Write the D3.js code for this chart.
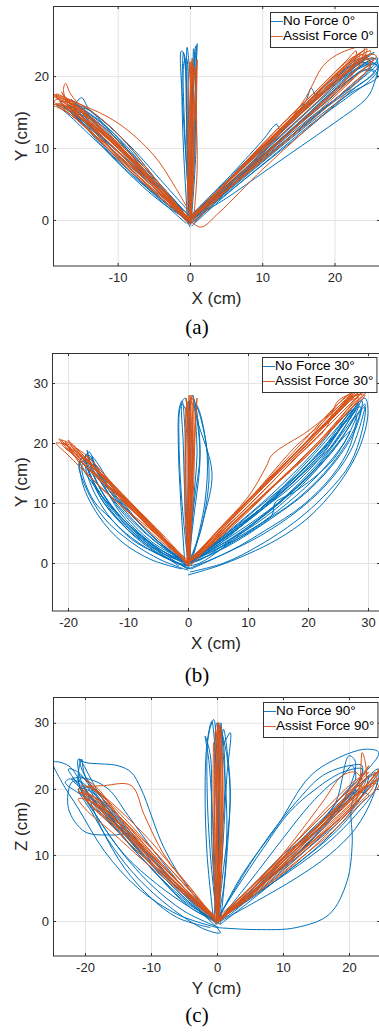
<!DOCTYPE html>
<html>
<head>
<meta charset="utf-8">
<script src="https://cdn.jsdelivr.net/npm/d3@7"></script>
<style>
  body { margin: 0; background: #fff; }
  svg { display: block; font-family: "Liberation Sans", Arial, sans-serif; }
</style>
</head>
<body>
<svg id="fig" width="379" height="1034"></svg>
<script>
// tick labels
const aXTicks = [-10, 0, 10, 20];
const aYTicks = [0, 10, 20];
const bXTicks = [-20, -10, 0, 10, 20, 30];
const bYTicks = [0, 10, 20, 30];
const cXTicks = [-20, -10, 0, 10, 20];
const cYTicks = [0, 10, 20, 30];

const aLegend = ['No Force 0°', 'Assist Force 0°'];
const bLegend = ['No Force 30°', 'Assist Force 30°'];
const cLegend = ['No Force 90°', 'Assist Force 90°'];

// trajectories, flat x,y lists (cm)
const aNoForce = [
  [0,0, -5,5, -10,10, -15,15, -17,16, -16,15.5, -11,10, -5,4.5, -1,0.5],
  [-0.5,0, -5,4, -10,9, -14,13, -16.5,15.5, -15,15.8, -9,11, -4,5.5, 0,1],
  [0,-0.5, -5,6, -10,12, -14,15.5, -15,17, -16,15.5, -12,13, -6,7, -1,1.5],
  [0,0, -6,4.5, -11,9, -15,13.5, -18,16.5, -16,16, -10,11.5, -4,4.5, 0,0],
  [0.5,-0.5, -4,2.5, -9,7, -13,11.5, -16,15, -14,14.5, -8,8.5, -3,3, 0,0],
  [0,-1, -1.5,2, -6,6, -11,10.5, -15.5,14.5, -17.5,16, -16,14.5, -10,9.5, -5,5, -1,1],
  [0.3,-0.8, -4.5,4, -9.5,9, -14.5,13.5, -17.5,15.8, -15.5,15, -10.5,10.5, -5.5,5.5, -1,0.8],
  [-0.8,0.5, -5.5,5.5, -10.5,11, -14,14.5, -16.5,16.8, -15.5,16, -11,12.5, -6,6.5, -1.2,1.5],
  [0,-0.3, -3,2, -8,6.5, -13,11, -17,14.8, -18.5,16, -16.5,15, -12,10.5, -6,4.5, -0.5,-0.5],
  [0.5,0.2, -5,4.8, -9,8.5, -13,12.5, -16,15, -14.5,15.5, -9.5,10.5, -4.5,5, 0,0.5],
  [0,0, -0.5,8, -1,16, -1.2,23.5, -0.8,23, -0.5,15, -0.2,6, 0,0],
  [0,0, 0.5,10, 0.8,20, 1,24.5, 0.7,22, 0.3,12, 0,0],
  [0,0, -0.3,10, -0.5,20, -0.4,24, 0,20, 0.2,10, 0,0],
  [0,0, 0.3,10, 0.4,20, 0.5,23.8, 0.8,18, 0.6,8, 0,0],
  [0,0, -0.7,12, -0.8,22, -0.5,22.5, -0.2,14, 0,0],
  [-0.3,-0.5, -0.9,10, -1.1,18, -0.9,23.3, -0.5,19, -0.4,9, 0.2,0],
  [0.2,0, 0.8,9, 0.9,18, 0.8,24.2, 0.4,20, 0.1,9, -0.3,-0.4],
  [0,0, 5,4, 10,8.5, 15,12.5, 20,16.5, 25,20, 26,21.5, 24,21.5, 19,17.5, 13,12, 7,6.5, 2,2, 0,0],
  [0,0, 5,3, 10,6.5, 15,10, 20,13.5, 24.5,17, 25.5,19, 26,21.8, 24,21, 18,16, 10,9, 3,2.5, 0,0],
  [0,0, 6,5, 12,10, 18,15, 22,18.5, 25,21.5, 23,21.8, 17,17, 11,11, 5,5, 0,0],
  [0,0, 5,4.5, 11,9.5, 17,14.5, 23,19, 26,22, 25,22.5, 20,19, 14,13.5, 7,7, 0,0],
  [0,0, 6,5.5, 11,10.5, 16,16.5, 16.8,18.3, 17.5,17.3, 21,20, 24.5,22.8, 25.5,23.3, 23,21.5, 16,15.5, 9,8.5, 2,1.5, 0,0],
  [0,0, 4,3, 10,8, 16,13, 22,17.5, 26,20, 25,21, 20,18, 14,12.5, 7,6, 0,0],
  [0,0, 5,5.5, 10,11, 12,13.3, 12.5,12.5, 16,15.5, 20,19.5, 23,22, 24.5,22.8, 22,20.5, 15,14, 8,7.5, 0,0],
  [-0.3,-0.5, 4,2.8, 9,6.8, 14,10.8, 19,15, 23,18.5, 25.5,20.5, 24,20.8, 19,16.5, 13,11.5, 7,6.5, 1,0.5],
  [0.5,-0.3, 6,4.8, 11,9, 16,13.5, 21,17.5, 24.5,20.5, 26,22.5, 24.5,22, 19,18, 13,12.5, 6,6, 0,0.3],
  [0,0.5, 4,4, 9,8, 14,12.5, 19,17, 22.5,20.5, 25,22, 23.5,22.5, 18.5,18, 12.5,12.5, 6,6.5, 0.5,1],
  [0.3,-0.8, 5,3.5, 11,8.5, 17,13.5, 22,17.2, 25,19.5, 26,21, 25,22, 21,19, 15,13.5, 8,7, 2,1, 0,-0.5]
];
const aAssist = [
  [0,0, -5,5, -10,10.5, -15,15, -18.5,17, -17,16, -11,11, -5,5, 0,0],
  [0,0, -5,4.5, -11,10, -16,14.5, -17.5,18, -17.2,19, -16.5,17.5, -12,12.5, -6,6, 0,0],
  [0,0, -6,5.5, -12,11, -17,16, -18.8,17.2, -15,16, -10,13.5, -5,9, -2,4.5, 0,1],
  [0,-0.5, -4,3, -9,7.5, -14,12.5, -18,16, -16,15, -10,9, -4,3, 0,0],
  [0,0, -5,6, -10,12, -15,16, -19,17.5, -17,16.5, -12,12.5, -6,7, -1,1],
  [0,0, -6,5, -12,10.5, -17,15, -19,16, -16,15.5, -11,11.5, -5,5.5, 0,0],
  [0,0, -4,4, -9,8.5, -13,12.5, -16,15.5, -17.8,17.8, -16.5,16, -12,11.5, -7,6.5, -2,1.5, 0,0],
  [0.2,-0.5, -4.5,4.5, -9.5,9.5, -14.5,14, -18,16.5, -16,16, -10.5,10.8, -5,5.5, -0.5,0.5],
  [-0.5,0.3, -5.5,5.5, -10.5,10.5, -15.5,14.5, -18.5,16.2, -17,15.8, -12,12, -6.5,6.5, -1,1],
  [0.3,0, -5,4.2, -10,8.8, -15,13.5, -18.8,16.5, -17.5,16.8, -13,13, -7,7, -1.5,1.5, 0.2,-0.5],
  [0,-0.8, -4,3.8, -8.5,8.2, -13.5,12.8, -17,15.5, -18.5,17.5, -16.5,16.5, -11,11.2, -5.5,5.8, -0.5,0.5],
  [-0.3,-0.2, -6,6.2, -11,11.5, -15.5,15.5, -17.5,17.2, -16,16.2, -11,12, -5,5.5, 0,0],
  [0,0, 0,10, 0.2,20, 0.3,22.5, 0.5,18, 0.4,8, 0,0],
  [0,0, -0.3,10, -0.2,20, 0,22, 0.2,15, 0.1,5, 0,0],
  [0,0, 0.5,10, 0.8,18, 1,22.3, 0.9,15, 1,7, 0.5,0],
  [0,0, -0.2,8, 0.2,18, 0.5,21.5, 0.3,12, 0,0],
  [0,0, 0.2,12, 0.6,21, 0.4,20, 0,10, 0,0],
  [0.1,-0.5, 0.3,9, 0.1,18, 0.2,22, 0.6,16, 0.5,6, 0,-0.3],
  [-0.4,0, -0.2,11, 0.4,21.5, 0.7,21, 0.5,10, 0.2,0.5],
  [0,0, 5,4.5, 10,9, 15,13.5, 20,18, 24,22, 25,23.5, 23,22.5, 18,17.5, 12,12, 6,6, 0,0],
  [0,0, 6,5.5, 12,11.5, 16,17, 18.5,21.5, 21,23.3, 24,24, 24,23, 20,19, 14,13.5, 7,7, 0,0],
  [0,0, 5,4, 11,9, 17,14, 22,18.5, 25,21.5, 24,22.5, 19,19, 13,13, 6,6, 0,0],
  [0,0, 1.5,-1, 4,1, 10,7, 16,12.5, 22,18, 25,22, 23.5,23, 17,17.5, 10,10.5, 4,4, 0,0],
  [0,0, 6,5, 12,10.5, 18,16, 22,20, 23,23.5, 21.5,22, 15,15.5, 9,9.5, 3,3, 0,0],
  [0,0, 5,5, 10,10, 15,14.5, 20,19, 23,21.5, 24.5,23, 22,21, 16,15.5, 10,10, 4,4, 0,0],
  [-0.3,0.3, 5,4.2, 10,8.8, 15,13.2, 20,17.5, 24,21, 25.5,22.5, 23.5,22, 18.5,18, 12.5,12.5, 6.5,6.5, 0.5,0.5],
  [0.5,-0.5, 5.5,4.5, 11,9.5, 16.5,14.5, 21.5,19, 24,22.5, 24.5,23.8, 22.5,22.3, 17,17, 11,11.2, 5,5.2, 0,0],
  [0,0.5, 4.5,4.8, 9.5,9.8, 14.5,14.5, 19.5,19, 22.5,22.5, 24,23.5, 22,22, 16,16.2, 10,10.2, 4.5,4.5, -0.3,0],
  [0.3,-0.3, 6,5, 12,10, 18,15.3, 23,20, 25.8,22.8, 24.8,23, 20,19.5, 14,14, 8,8.2, 2,2, 0,-0.5],
  [-0.5,0, 4,3.8, 8,7.8, 13,12.2, 18,16.8, 22,20.8, 23.5,22.8, 21,21, 15,15, 9,9, 3,3, 0,0]
];

const bNoForce = [
  [0,-1, -1.8,0, -5,1.5, -9.2,3.8, -13,7.5, -15.8,10.5, -17.7,16, -16.5,18.5, -15,15, -11,8, -5,2.5, 0,0],
  [0,0, -5,2, -10,5.5, -14,10, -16.5,15, -17,18, -16,17, -13,12, -8,6.5, -3,2, 0,0],
  [0,-0.5, -4,1, -9,4.5, -13,9, -16,14, -17.5,17.5, -18,17, -15,12, -10,6.5, -4,1.5, 0,-1],
  [0,0, -6,3, -11,7.5, -15,13, -16.5,17, -16.8,18.8, -16,16, -12,10, -6,4, 0,0],
  [-1,-1, -6,0.5, -11,3.5, -15,8, -17.5,13, -18,17, -17,16, -14,10, -9,5, -3,1, 0,0],
  [0,0, -4,2.5, -8,6, -12,10.5, -15,15, -16,17.5, -15.5,16, -11,10, -6,4.5, 0,0],
  [0.5,-1, -3,0.5, -8,3.2, -12.5,7, -15.5,11.5, -17,15.5, -17.2,17.5, -16,15, -12.5,9, -7,3.5, -1.5,-0.5],
  [-0.5,-0.2, -5,2.5, -9.5,6, -13.5,10.5, -16,15.5, -16.5,18, -15.5,16.5, -12,11, -7,5.5, -2,1, 0.3,-0.8],
  [0,-1.2, -4.5,0.5, -9.5,3.5, -14,7.5, -17,12.5, -18.2,16.5, -17.5,17.5, -15.5,13, -11,7, -5.5,2, -0.5,-0.5],
  [0.3,0, -6,3.5, -11,8.5, -14.5,13.5, -16,17.8, -15,16.5, -11.5,11, -6.5,5, -1.5,0.8],
  [0,0, -1,10, -1.5,20, -1.3,26, -0.5,27.5, 0,20, 0,8, 0,0],
  [0,0, 0,10, 0.3,20, 0.5,27.5, 1.5,26, 3,20, 3.5,14, 2,5, 0,0],
  [0,0, 1,10, 2,18, 1.5,25, 0.8,28, 1.5,24, 4,15, 2.5,7, 0.5,0],
  [0,0, -0.5,10, -0.8,20, -1,26.5, -0.2,25, 0.5,15, 0.2,5, 0,0],
  [0,0, 0.5,8, 0.8,18, 0.3,27, 1,26, 2,18, 1,8, 0,0],
  [-0.5,-0.5, -1.2,10, -1.6,19, -1.5,25.5, -1,27, -0.5,22, -0.3,10, 0.3,0],
  [0.3,0, 0.8,9, 1.5,18, 1.3,26.5, 2,25, 3.2,18, 2.8,10, 1,2, 0,-0.5],
  [0,-2, 5,-0.5, 10,1.5, 15,4, 20,7.5, 25,13, 28.5,19, 30,25, 29.5,27.5, 27,24, 22,17, 15,10, 8,4.5, 2,0.5, 0,0],
  [0,0, 8,5, 15,10, 22,16.5, 27,23, 28.5,26.5, 27,25, 20,17, 12,9, 5,3, 0,0],
  [0,0, 6,3, 12,6.5, 18,10.5, 24,16.5, 28,23, 29,27, 27.5,26, 23,19, 16,12, 8,5.5, 0,0],
  [0,-1, 7,2, 13,5.5, 19,9.5, 24,14.5, 27,19.5, 28,24.5, 26,22, 21,15.5, 14,9, 7,4, 0,0],
  [0,0, 6,4.5, 12,9.5, 18,14.5, 23,19.5, 26.5,24, 28,25.5, 25,22, 19,15.5, 12,9, 5,3.5, 0,0],
  [0,0, 10,5, 14,8, 14.5,10, 18,12, 24,17, 27,22, 26,21, 20,14, 12,7, 0,0],
  [0.5,-1, 6,1.5, 12,4.5, 18,8.5, 23,13, 27,18.5, 29,24, 29.5,26.5, 28,24.5, 24,18.5, 17,11.5, 9,5, 2,0, 0,-0.5],
  [-0.5,-0.5, 7,3, 14,7.5, 20,12, 25,17.5, 28,22.5, 28.8,26, 27,25, 22,18.5, 15,11.5, 7,5, 0.5,0.3],
  [0,0.3, 5,3.5, 11,8, 17,12.5, 22,17.5, 25.5,22.5, 27.5,25.5, 26,24.5, 21,18.5, 14,11.5, 7,5.5, 0,0],
  [0.3,-1.5, 6,0, 12,3, 18,7, 23,11.5, 27,16.5, 29,22, 29.5,26, 28.5,25, 26,20, 20,13, 12,6.5, 4,1.5, 0,0],
  [0,0, 8,6, 14,10.5, 19,14.8, 24,19.5, 27.5,25, 28.5,27, 26.5,24, 21,17, 13,9.5, 6,4, 0,0]
];
const bAssist = [
  [0,0, -5,5, -10,10, -15,14.5, -19,18.5, -21.5,20.7, -21,20, -17,16.5, -12,11.5, -6,5.5, 0,0],
  [0,0, -5,4.5, -11,9.5, -16,14, -20,18, -22,20, -20,19.5, -15,15, -9,9, -3,3, 0,0],
  [0,0, -6,6, -11,11.5, -15,15.5, -18,18.5, -20,20.5, -19,19, -14,14.5, -8,8.5, -2,2, 0,0],
  [0,0, -4,4.5, -9,9.5, -13,13.5, -17,17, -19,19.5, -17.5,18, -13,13, -8,7.5, -3,2.5, 0,0],
  [0,0, -5,4, -10,8.5, -15,13, -18,16.5, -20.5,20.3, -19,18, -14,13.5, -9,9, -4,4, 0,0],
  [0,0, -7,7, -12,12, -16,16.5, -17,18, -16,17, -11,11.5, -5,5, 0,0],
  [0.3,-0.5, -4.5,4.5, -9.5,9.2, -14.5,13.8, -18.5,17.5, -21,19.8, -20,19.8, -16,16, -10.5,10.5, -5,5, -0.3,0.3],
  [-0.3,0.3, -5.5,5.2, -10.5,10.3, -15.5,15, -19.5,19, -21.2,20.5, -19.5,19.8, -14.5,14.8, -9,9.2, -3.5,3.5, 0,-0.3],
  [0,-0.5, -4,3.8, -8.5,8, -13.5,12.5, -17.5,16.5, -19.8,18.8, -18.5,18.5, -13.5,13.8, -8.5,8.5, -3,3, 0,0],
  [0.5,0, -6,5.8, -11.5,11, -16,15.2, -19,18, -20.5,19.2, -18,17.8, -12.5,12.5, -7,7, -1.5,1.5],
  [-0.2,-0.3, -5,5.3, -10,10.3, -14,14.5, -17.5,18, -18.5,19, -17,18, -12,12.5, -6.5,6.8, -1,1],
  [0,0, 0,10, 0.3,20, 0.5,28, 0.8,22, 0.5,10, 0,0],
  [0,0, -0.3,10, -0.3,20, 0,27, 0.5,20, 0.3,8, 0,0],
  [0,0, 0.5,10, 1,20, 1.5,27.5, 1.2,22, 0.8,10, 0,0],
  [0,0, -0.5,8, -0.5,18, -0.3,26, 0.2,18, 0.4,6, 0,0],
  [0,0, 0.2,12, 0.6,23, 0.2,28, 0,20, 0,8, 0,0],
  [0.2,-0.5, 0.4,9, 0.7,19, 0.9,27.8, 1,22, 0.7,11, 0.3,0],
  [-0.2,0.2, 0.1,11, 0.2,21, -0.3,27.5, 0,22, 0.2,10, 0,-0.5],
  [0,0, 6,6, 12,12, 18,18, 24,24, 28,28, 29.5,29.5, 27,27, 21,21, 14,14, 7,7, 0,0],
  [0,0, 5,5.5, 10,11, 13,16, 14,18, 20,22, 25,26, 28,28.5, 26,26.5, 19,19.5, 12,12, 5,5, 0,0],
  [0,0, 7,6, 14,12.5, 20,18, 25,23.5, 28.5,27.5, 27,27, 22,22, 15,15, 8,8, 0,0],
  [0,0, 5,4, 11,9.5, 17,15.5, 22,20.5, 26,25, 29,28.5, 28,27.5, 23,22.5, 16,15.5, 9,8.5, 3,3, 0,0],
  [0,0, 6,5.5, 12,11.5, 18,17.5, 23,22.5, 25,27, 27,28, 25.5,26, 20,20, 13,13, 6,6, 0,0],
  [0,0, 4,3, 9,8, 15,13.5, 21,19, 26,24.5, 30,29, 28.5,28.5, 22,22, 15,14.5, 8,7.5, 0,0],
  [0.3,-0.5, 5.5,5, 11,10.5, 16.5,16, 22,21.5, 26,25.5, 28.5,28, 27,27.3, 21.5,21.8, 15,15.3, 8.5,8.5, 2,2, 0,0],
  [-0.3,0, 6,5.2, 12,10.8, 18,16.5, 23.5,22, 27,26, 29,28, 27.5,27.8, 22,22.5, 15.5,16, 8,8.5, 1,1],
  [0,0.5, 5,5, 10,10.3, 15.5,15.8, 20.5,20.8, 24.5,25, 27.5,28.5, 26,27.5, 19.5,20, 13,13.5, 6.5,7, 0,0],
  [0.5,-0.3, 7,6.2, 13,11.8, 19,17.3, 24,22.2, 27.5,26, 29.5,28, 28,28, 23.5,23.5, 16.5,16.5, 9.5,9.5, 2.5,2.5, 0,0],
  [0,0, 4.5,4.8, 9.5,9.8, 14,15, 18,19.5, 22,23, 26,27, 27.5,28.5, 25,26.5, 18.5,19.5, 11.5,12, 4.5,4.5, 0,0]
];

const cNoForce = [
  [0,0, -5,3, -10,8, -15,13.5, -19,18, -21,21, -20.5,24.5, -20,22, -16,17, -11,11, -5,4.5, 0,0],
  [0,0, -4,4.5, -8,11, -11.5,20, -13,22.5, -15,23.5, -20,24, -21,24.5, -20.5,21, -17,16, -10,8, -4,2, 0,0],
  [0,-1, -6,1, -12,5, -17,10.5, -21,17, -23.5,21, -24.8,24, -22.5,23.5, -20,20, -16,15, -10,8, -4,2.5, 0,0],
  [0,0, -5,4, -10,9, -13,13, -16,13, -20,13.5, -22.5,17, -22,21, -20.5,21, -18,18, -12,11, -6,5, 0,0],
  [-1,-1, -6,0.5, -10,3.5, -14,8, -17.5,14, -19.5,19, -20,20.5, -17,17.5, -12,11, -6,5, 0,-1],
  [0,0, -6,5, -12,11, -17,16.5, -22,21.5, -23,21, -19,18, -13,12.5, -7,6.5, -1,0.5],
  [0,-1, 0.5,-1.8, -2,-1.2, -7,2, -12,6.5, -16,11.5, -19,16.5, -21,20, -19,19.5, -14,13, -8,6.5, -2,1, 0,0],
  [0.5,-0.5, -4,2, -9,5.5, -14,10, -18,15.5, -21,20.5, -22.5,23, -21,22.5, -18,18.5, -13,12, -7,5.5, -1,0],
  [-0.5,0.3, -5,5, -9.5,10.5, -13.5,16, -16.5,20, -19.5,21.5, -22,21.5, -20.5,20, -16.5,16, -11,10.5, -5.5,5, 0,0],
  [0.3,-1, -5,1.5, -10,5.5, -14.5,10.5, -18,15.5, -20.5,19.5, -21,22, -19,20.5, -15,15.5, -10,9.5, -4,3, 0,-0.5],
  [0,0, -6,5.5, -11,10.5, -15,15, -18,19.5, -20.8,24.5, -20.5,23, -18.5,19.5, -13.5,13.5, -8,7.5, -2,1.5],
  [0,0, -1,10, -1.5,20, -1.3,28, -0.5,30.5, 0,25, 0.3,12, 0,0],
  [0,0, 0.5,10, 1.2,20, 0.8,28, 0,30, -0.3,20, -0.5,8, 0,0],
  [0,0, 1,8, 2,18, 1.5,25, 0.5,29.5, 1,27, 2,28.5, 1.5,22, 0.8,10, 0,0],
  [0,0, -0.8,12, -1,25, -1.8,28, -1.2,24, -0.5,12, 0,0],
  [0,0, 0.3,15, 0.6,30, 0.9,26, 1.5,15, 1,5, 0,0],
  [-0.5,0, -1.5,10, -1.8,20, -1.5,27, -0.8,30.2, -0.3,26, 0.2,12, 0.5,0],
  [0.5,-0.5, 1.5,10, 2,20, 1.5,26, 1,29, 0.5,24, 0.2,10, -0.5,0],
  [0,0, 5,4, 10,8, 15,12, 20,16.5, 23,20.5, 24.5,22.5, 22,21, 16,14.5, 10,9, 4,3, 0,0],
  [0,0, 4,7, 8,13, 12,18, 16,22, 20,23.5, 22,23.5, 21,20, 17,15, 11,9, 5,4, 0,0],
  [0,0, 4,7.3, 9,14.2, 14,21.8, 18,24.5, 22.5,26, 24.5,25.5, 22,22, 16,16, 9,9, 3,3, 0,0],
  [0,-1, 6,-1.3, 12,-1, 17,1, 19.7,6, 20.5,12, 20.3,17, 21,20, 19,18, 14,12, 8,6.5, 2,1, 0,0],
  [0,0, 6,4, 12,8.5, 18,13.5, 22,18, 23,19, 21,19.5, 15,14.5, 9,8.5, 3,2.5, 0,0],
  [0,0, 5,3.5, 11,7.5, 17,12, 21,16, 24,20, 24.5,23, 23,22, 18,17, 12,11.5, 6,5.5, 0,0],
  [0,0, 5,5, 10,10, 15,14, 18,18, 20,25, 21,24, 19,18, 13,11, 6,5, 0,0],
  [0.5,-0.5, 5,3, 10,7, 15,11, 19,15, 22,19, 23,22, 21.5,20, 17,15.5, 11,10, 5,4.5, 0,0],
  [0,0.3, 3,5, 7,11, 11,16.5, 15,20, 19,22.5, 22,23, 21.5,21, 18,16.5, 12,10.5, 6,5, 0.5,0.5],
  [-0.3,-0.5, 6,3, 12,6.5, 17,10, 21,14, 23.5,18.5, 24.3,21.5, 22,19, 17,14, 11,8.5, 5,3.5, 0,0],
  [0.2,0, 5,6, 10,12.5, 14,17.5, 17,20.5, 19,22, 20.5,23.5, 21,21.5, 19,19, 14,13, 8,7, 2,1.5]
];
const cAssist = [
  [0,0, -5,4.5, -10,9.5, -15,15, -19,19, -21,20, -20,18.5, -15,14, -9,8.5, -4,3.5, 0,0],
  [0,0, -6,6, -11,11, -15,16, -18,20, -20,21.5, -19,20.5, -15,17, -10,12, -5,6, 0,0],
  [0,0, -5,4, -11,9, -16,13.5, -20,17, -21,18.5, -19,18, -14,13, -8,7, 0,0],
  [0,0, -4,5, -8,10, -11,16, -13,20.5, -17,20.5, -20,20, -17,17, -11,11, -5,5, 0,0],
  [0,0, -6,5.5, -12,10.5, -17,15.5, -20,18.5, -18,17.5, -13,13, -7,7, 0,0],
  [0,0, -5,5, -10,10.5, -15,16, -18,18.5, -21,19.5, -19,19, -14,14.5, -8,8, -2,2, 0,0],
  [0.3,-0.3, -4.5,4, -9.5,8.8, -14.5,13.8, -18.5,17.5, -20.5,19.5, -19.5,18.8, -15,14.5, -9.5,9, -4,3.8, 0,0.5],
  [-0.3,0.2, -5.5,5.5, -10.5,11, -14.5,15.5, -17.5,19, -19.5,20.5, -18.5,20, -14,15.5, -9,10, -4,4.5, 0,0],
  [0.5,0, -4.5,4.5, -9,9, -13.5,13.5, -17,17, -19,18, -17.5,17.2, -13,12.8, -7.5,7.5, -2.5,2.5, 0,-0.3],
  [0,-0.5, -6,5, -11.5,10, -16,14.5, -19.5,18, -20.5,20.5, -19,20, -14.5,15.5, -9.5,10.5, -4.5,5, 0.2,0.2],
  [0,0, 0,10, 0.2,20, 0.2,30, 0.5,25, 0.6,12, 0,0],
  [0,0, -0.3,10, -0.4,20, -0.2,29, 0.3,22, 0.4,10, 0,0],
  [0,0, 0.5,12, 0.8,22, 0.5,28.5, 0,20, 0,8, 0,0],
  [0,0, -0.5,8, -0.6,18, -0.5,27, -0.2,20, 0.2,5, 0,0],
  [0,0, 0.3,10, 0.5,20, 0.3,30, 0.2,26, 0.5,12, 0,0],
  [0.2,0, 0.7,10, 0.8,20, 0.6,29.5, 0.9,22, 0.8,10, 0.2,-0.5],
  [-0.3,0, -0.2,12, 0,24, 0.1,30, -0.1,20, 0,8, 0.3,0],
  [0,0, 5,4, 10,8.5, 15,13, 20,17.5, 23,21, 24,22.5, 22,21, 16,15, 10,9.5, 4,3.5, 0,0],
  [0,0, 6,4.5, 12,9.5, 17,14, 21,18, 22,25.5, 22.5,21, 18,16.5, 12,10.5, 6,5, 0,0],
  [0,0, 5,3.5, 11,8, 16,12.5, 20,16.5, 23.5,20, 24.5,23, 23,20, 18,15, 11,9, 4,3, 0,0],
  [0,0, 4,4, 9,9, 13,14, 16,18, 19,22, 21,22.5, 22,21, 18,17, 12,11.5, 6,6, 0,0],
  [0,0, 6,5, 12,10, 18,15, 22,19, 24.5,21.5, 23,20.5, 17,15.5, 11,10, 5,4.5, 0,0],
  [0,0, 5,4.5, 10,9, 15,13.5, 19,17, 22,20.5, 20.5,20, 14,14, 8,8, 2,2, 0,0],
  [0.3,0, 5.5,4.3, 11,9, 16,13.5, 20.5,17.8, 23.5,21.5, 24.5,22.8, 22.5,20.5, 17,15.8, 11,10.3, 5,4.5, 0,0],
  [0,0.5, 4.5,4.5, 9.5,9.2, 14.5,13.8, 19,18.3, 22,21.8, 23,23.5, 21.5,21.5, 16,16, 10,10, 4,4, 0,0],
  [-0.3,-0.3, 6,4.2, 12,9, 17.5,13.5, 21.5,17.5, 24.5,20.5, 23.5,20.8, 18,16, 12,10.8, 6,5, 0.5,0],
  [0.5,0, 5,4.8, 10.5,9.8, 15,14, 19,18, 21.5,21, 23,22.5, 21,21.3, 16.5,17, 11,11, 5,5, 0,0]
];

const blue = '#0072BD';
const orange = '#D95319';

const panels = [
  { box: { l: 53, r: 380, t: 6, b: 266 }, xDom: [-18.95, 26.3], yDom: [-6.4, 29.75],
    xTicks: aXTicks, yTicks: aYTicks, xLabel: 'X (cm)', yLabel: 'Y (cm)', names: aLegend,
    noForce: aNoForce, assist: aAssist, legend: { x: 270, y: 12 }, caption: '(a)', capY: 329 },
  { box: { l: 52, r: 380, t: 353, b: 611 }, xDom: [-22.67, 32], yDom: [-8, 35],
    xTicks: bXTicks, yTicks: bYTicks, xLabel: 'X (cm)', yLabel: 'Y (cm)', names: bLegend,
    noForce: bNoForce, assist: bAssist, legend: { x: 262, y: 357 }, caption: '(b)', capY: 677 },
  { box: { l: 53, r: 380, t: 697, b: 956 }, xDom: [-24.85, 24.7], yDom: [-5.3, 33.9],
    xTicks: cXTicks, yTicks: cYTicks, xLabel: 'Y (cm)', yLabel: 'Z (cm)', names: cLegend,
    noForce: cNoForce, assist: cAssist, legend: { x: 263, y: 702 }, caption: '(c)', capY: 1017 }
];

const svg = d3.select('#fig');

function toPoints(flat) {
  const pts = [];
  for (let i = 0; i < flat.length; i += 2) pts.push([flat[i], flat[i + 1]]);
  return pts;
}

panels.forEach((p, i) => {
  const w = p.box.r - p.box.l;
  const h = p.box.b - p.box.t;
  const x = d3.scaleLinear().domain(p.xDom).range([0, w]);
  const y = d3.scaleLinear().domain(p.yDom).range([h, 0]);

  const g = svg.append('g').attr('transform', `translate(${p.box.l},${p.box.t})`);

  g.append('clipPath').attr('id', 'clip' + i)
    .append('rect').attr('width', w).attr('height', h);

  // grid
  g.append('g')
    .attr('transform', `translate(0,${h})`)
    .call(d3.axisBottom(x).tickValues(p.xTicks).tickSize(-h).tickFormat(''))
    .call(s => s.select('.domain').remove())
    .call(s => s.selectAll('.tick line').attr('stroke', '#e4e4e4'));
  g.append('g')
    .call(d3.axisLeft(y).tickValues(p.yTicks).tickSize(-w).tickFormat(''))
    .call(s => s.select('.domain').remove())
    .call(s => s.selectAll('.tick line').attr('stroke', '#e4e4e4'));

  const line = d3.line()
    .x(d => x(d[0]))
    .y(d => y(d[1]))
    .curve(d3.curveCatmullRom.alpha(0.5));

  const plot = g.append('g').attr('clip-path', `url(#clip${i})`);
  plot.selectAll('.nf')
    .data(p.noForce.map(toPoints))
    .enter().append('path')
    .attr('class', 'nf')
    .attr('fill', 'none')
    .attr('stroke', blue)
    .attr('stroke-width', 1)
    .attr('d', line);
  plot.selectAll('.af')
    .data(p.assist.map(toPoints))
    .enter().append('path')
    .attr('class', 'af')
    .attr('fill', 'none')
    .attr('stroke', orange)
    .attr('stroke-width', 1)
    .attr('d', line);

  // axes with inward ticks
  const axisColor = '#333';
  g.append('g')
    .attr('transform', `translate(0,${h})`)
    .call(d3.axisBottom(x).tickValues(p.xTicks).tickSizeInner(-3).tickSizeOuter(0).tickPadding(7).tickFormat(d => String(d)))
    .call(s => s.select('.domain').remove())
    .call(s => s.selectAll('.tick line').attr('stroke', axisColor))
    .call(s => s.selectAll('text').attr('fill', '#262626').attr('font-size', 13).attr('font-family', '"Liberation Sans", Arial, sans-serif'));
  g.append('g')
    .call(d3.axisLeft(y).tickValues(p.yTicks).tickSizeInner(-3).tickSizeOuter(0).tickPadding(4).tickFormat(d => String(d)))
    .call(s => s.select('.domain').remove())
    .call(s => s.selectAll('.tick line').attr('stroke', axisColor))
    .call(s => s.selectAll('text').attr('fill', '#262626').attr('font-size', 13).attr('font-family', '"Liberation Sans", Arial, sans-serif'));
  g.append('g')
    .call(d3.axisTop(x).tickValues(p.xTicks).tickSizeInner(-3).tickSizeOuter(0).tickFormat(''))
    .call(s => s.select('.domain').remove())
    .call(s => s.selectAll('.tick line').attr('stroke', axisColor));
  g.append('g')
    .attr('transform', `translate(${w},0)`)
    .call(d3.axisRight(y).tickValues(p.yTicks).tickSizeInner(-3).tickSizeOuter(0).tickFormat(''))
    .call(s => s.select('.domain').remove())
    .call(s => s.selectAll('.tick line').attr('stroke', axisColor));

  g.append('rect')
    .attr('x', 0.5).attr('y', 0.5)
    .attr('width', w).attr('height', h - 0.5)
    .attr('fill', 'none')
    .attr('stroke', axisColor)
    .attr('stroke-width', 1);

  // axis labels
  g.append('text')
    .attr('x', w / 2).attr('y', h + 34)
    .attr('text-anchor', 'middle')
    .attr('dominant-baseline', 'middle')
    .attr('font-size', 17)
    .attr('fill', '#262626')
    .text(p.xLabel);
  g.append('text')
    .attr('transform', `translate(${23 - p.box.l},${h / 2}) rotate(-90)`)
    .attr('text-anchor', 'middle')
    .attr('dominant-baseline', 'middle')
    .attr('font-size', 17)
    .attr('fill', '#262626')
    .text(p.yLabel);

  // legend
  const lg = svg.append('g').attr('transform', `translate(${p.legend.x},${p.legend.y})`);
  const box = lg.append('rect')
    .attr('x', 0.5).attr('y', 0.5)
    .attr('height', 35)
    .attr('fill', '#fff')
    .attr('stroke', axisColor)
    .attr('stroke-width', 1);
  let maxLen = 0;
  p.names.forEach((name, k) => {
    const cy = 9.5 + k * 15;
    lg.append('line')
      .attr('x1', 1).attr('x2', 13)
      .attr('y1', cy).attr('y2', cy)
      .attr('stroke', k === 0 ? blue : orange)
      .attr('stroke-width', 0.9);
    const t = lg.append('text')
      .attr('x', 13).attr('y', cy)
      .attr('dominant-baseline', 'middle')
      .attr('font-size', 13.5)
      .attr('fill', '#000')
      .text(name);
    maxLen = Math.max(maxLen, t.node().getComputedTextLength());
  });
  box.attr('width', 13 + maxLen + 3);

  // caption
  svg.append('text')
    .attr('x', 197).attr('y', p.capY)
    .attr('text-anchor', 'middle')
    .attr('dominant-baseline', 'middle')
    .attr('font-family', '"Liberation Serif", "Times New Roman", serif')
    .attr('font-size', 21)
    .attr('fill', '#000')
    .text(p.caption);
});
</script>
</body>
</html>
